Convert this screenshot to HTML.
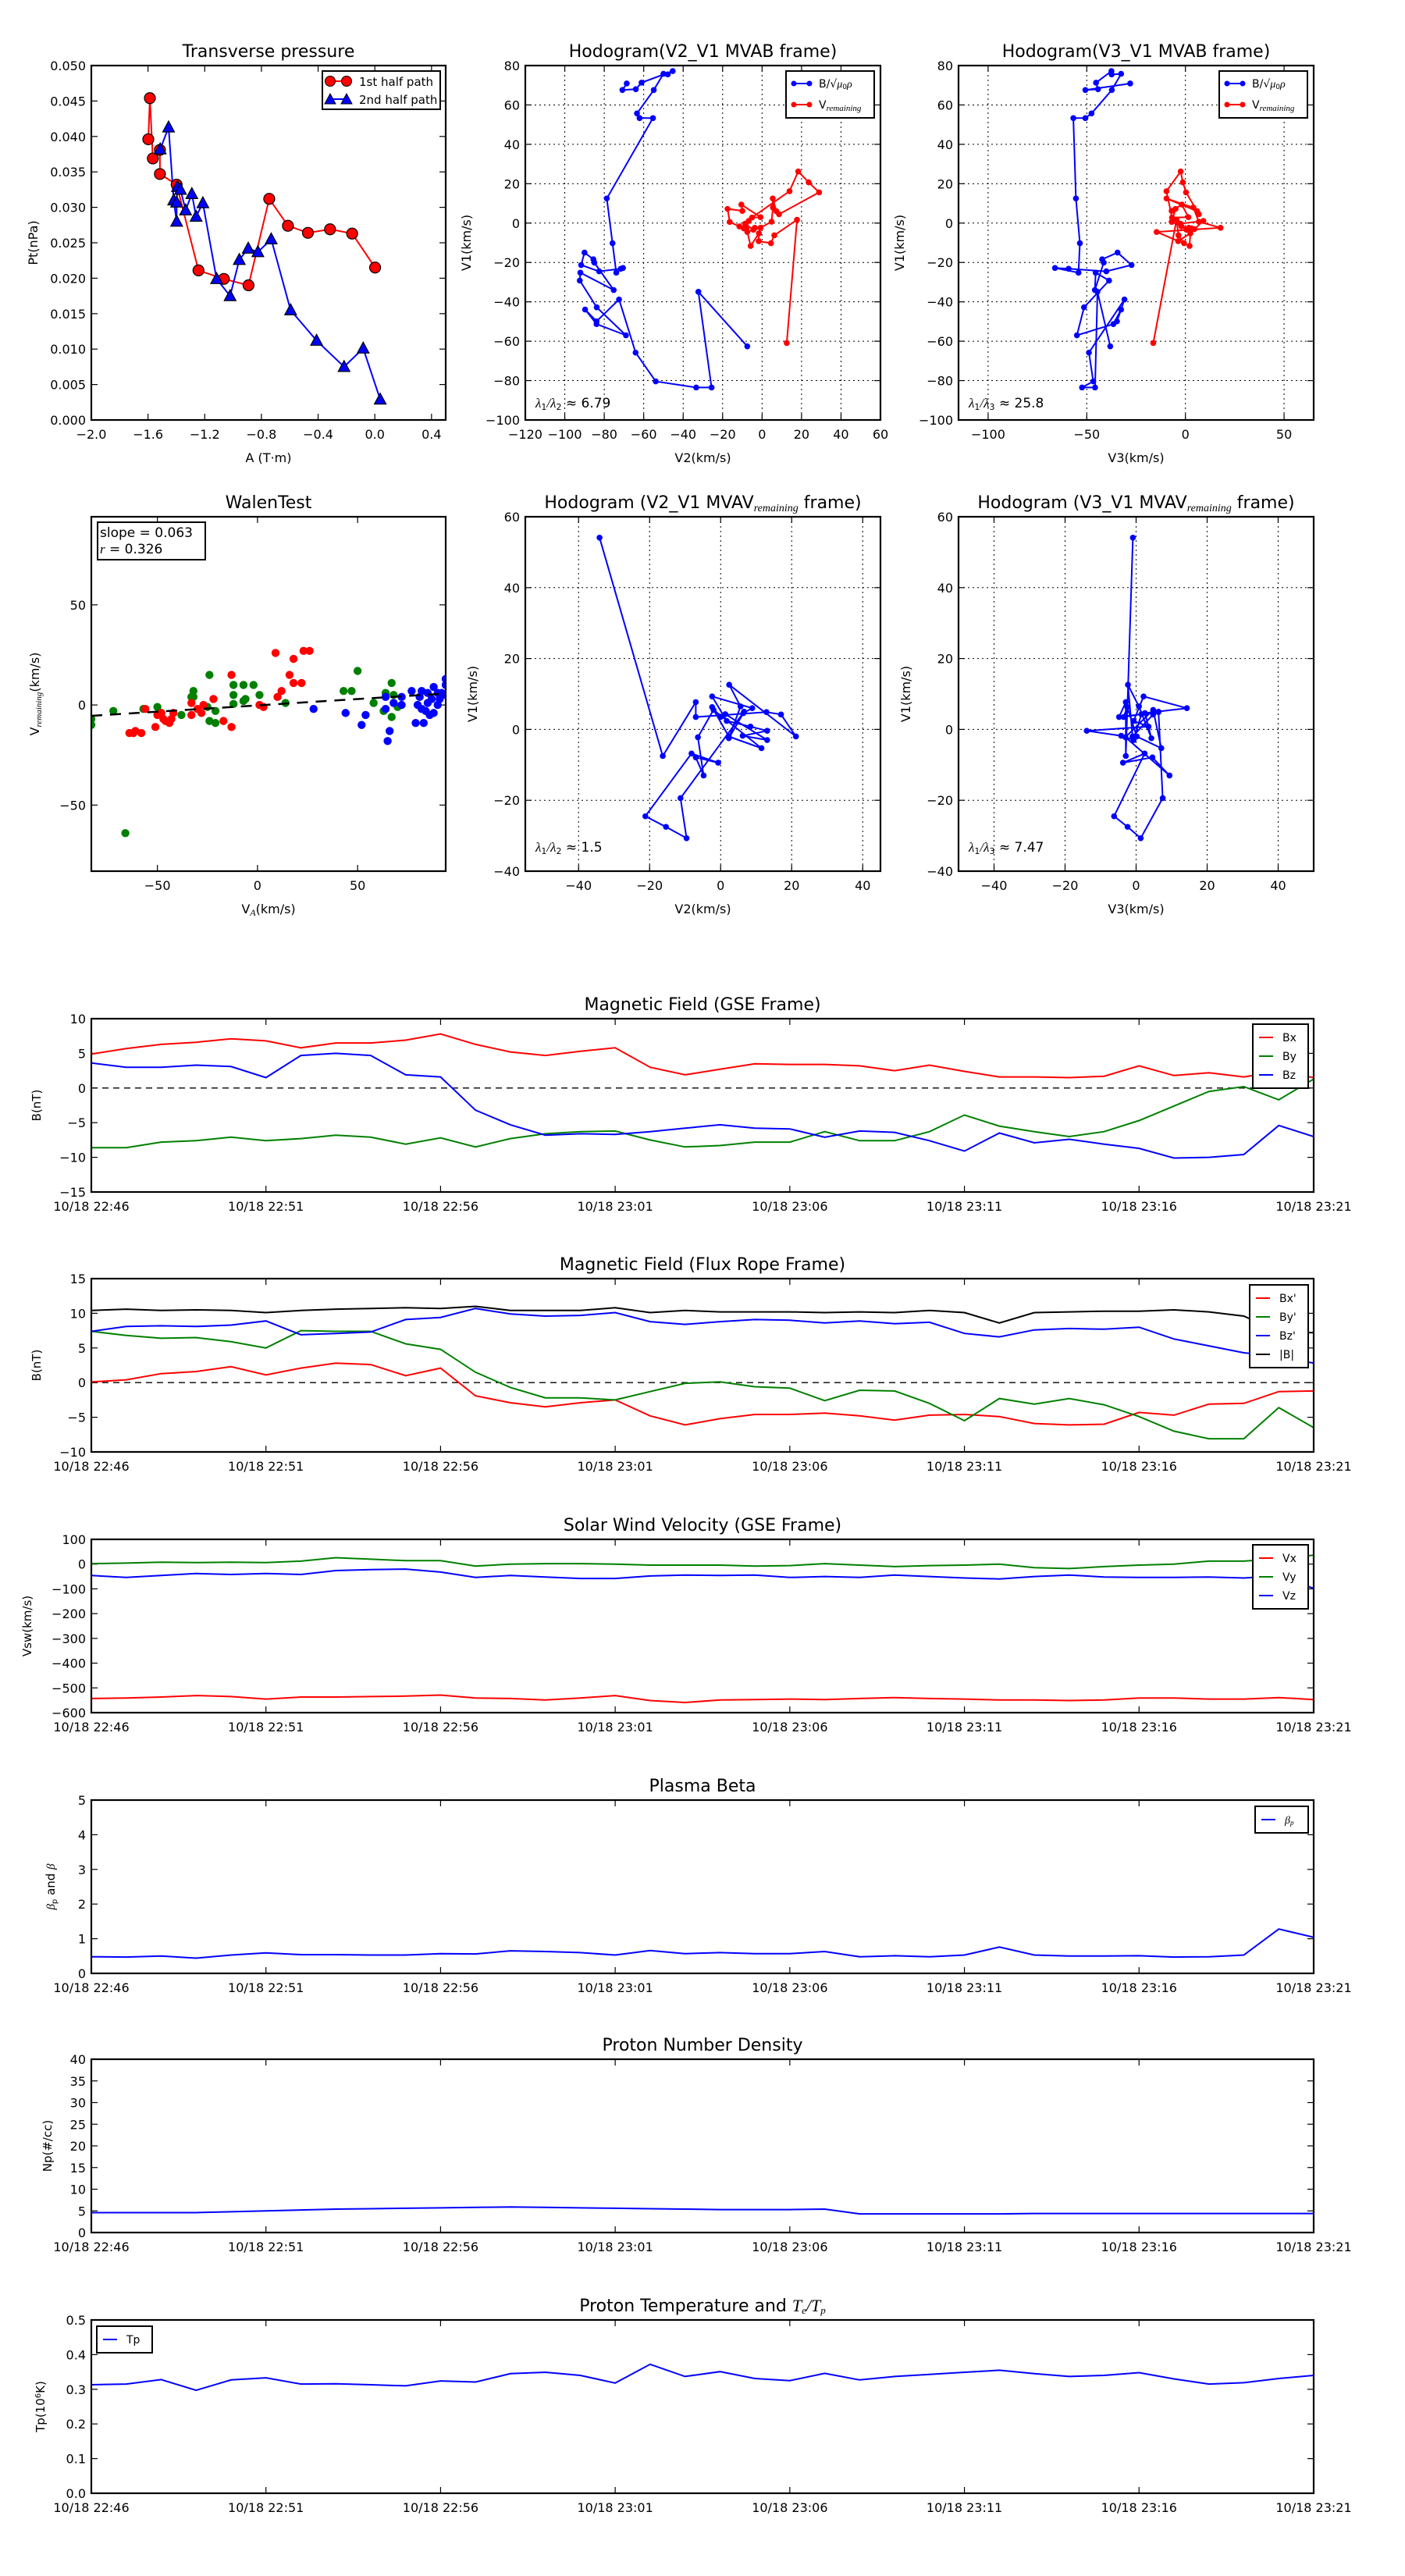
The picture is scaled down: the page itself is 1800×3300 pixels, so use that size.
<!DOCTYPE html>
<html><head><meta charset="utf-8"><title>Flux rope analysis</title>
<style>
html,body{margin:0;padding:0;background:#fff;}
svg{display:block;font-family:"DejaVu Sans","Liberation Sans",sans-serif;}
</style></head>
<body>
<svg id="fig" xmlns="http://www.w3.org/2000/svg" width="1800" height="3300" viewBox="0 0 1800 3300"></svg>
<script>
// ---------- DATA ----------
const ptRedA = [-1.598,-1.587,-1.566,-1.516,-1.516,-1.398,-1.244,-1.065,-0.891,-0.745,-0.613,-0.472,-0.316,-0.16,0.002];
const ptRedP = [0.0396,0.0454,0.0369,0.0381,0.0347,0.0332,0.0211,0.0199,0.0190,0.0312,0.0274,0.0264,0.0269,0.0263,0.0215];
const ptBlueA = [-1.514,-1.455,-1.419,-1.398,-1.398,-1.392,-1.371,-1.335,-1.291,-1.261,-1.213,-1.116,-1.021,-0.956,-0.893,-0.825,-0.731,-0.594,-0.411,-0.217,-0.082,0.038];
const ptBlueP = [0.0382,0.0413,0.0310,0.0280,0.0307,0.0329,0.0325,0.0296,0.0319,0.0287,0.0306,0.0199,0.0175,0.0226,0.0242,0.0237,0.0255,0.0155,0.0112,0.0075,0.0101,0.0029];

const mvabBV2 = [-7.5,-32.3,-25.6,-33.4,-53.9,-64.1,-72.5,-83.9,-89.7,-83.9,-69,-83.8,-92.4,-92.1,-75.2,-85,-85.5,-90,-91.7,-82.6,-71.6,-70.5,-73.9,-75.8,-78.7,-55.3,-62.1,-63.4,-54.9,-50,-47.8,-45.3,-61.1,-64,-70.8,-68.6];
const mvabBV1 = [-62.6,-34.9,-83.5,-83.5,-80.4,-65.8,-38.8,-49.9,-43.9,-51.3,-57,-42.8,-29.2,-25.2,-34,-20.1,-18.4,-15,-21.3,-24.5,-23.2,-22.8,-25.2,-10.2,12.5,53.3,53.3,55.7,67.6,75.8,75.5,77.2,71.3,68,67.6,70.9];
const mvabBV3 = [-38.1,-44.6,-45.8,-52.4,-46.7,-48.9,-30.9,-34.7,-32.6,-36.5,-55,-51.4,-38.7,-45.5,-45.9,-41.4,-42.2,-34.4,-27.3,-40.1,-59.2,-66.1,-54.2,-53.5,-55.5,-56.8,-50.7,-47.6,-37.3,-32.6,-37.4,-37.5,-45.3,-44.3,-50.7,-28];
const mvabVV2 = [12.5,17.7,6.2,4.5,-1.7,-1.6,-5.8,-7.5,-0.8,4.8,5.5,5.4,7.2,8.6,28.9,23.6,18.3,13.9,-5.1,-0.8,-10.5,-10,-17.5,-16.4,-11.5,-9.3,-7.9,-6.8,-8.6,-4.4,-3.7];
const mvabVV1 = [-60.9,1.7,-6.2,-10.2,-9.2,-5.2,-11.6,-4.5,-2.4,0.7,7.9,12.5,6.1,4.5,15.6,20.7,26.2,16.2,2.8,3.0,9.4,6.2,7.2,0.6,-1.7,-2.7,-3.1,1.1,-0.3,-3.4,-2.4];
const mvabVV3 = [-16.3,-4.5,-3.5,-0.7,-3.7,2.5,2.1,-14.6,17.8,6.8,4,-9.6,5.9,6.8,0.3,-1.3,-2.4,-9.6,-6.8,1.5,-1.8,-7,-5,-7,-2,3,4.5,9.1,-2.5,0.5,1.7];

const walenGreenX = [-83,-83,-72,-57,-50,-38,-33,-32,-32,-25,-24,-24,-21,-21,-12,-12,-12,-7,-7,-6,-2,1,14,43,47,50,58,63,64,67,67,68,70,-66];
const walenGreenY = [-7,-10,-3,-2,-1,-5,4,7,4,-1,15,-8,-3,-9,10,5,0.5,10,2,3,10,5,1,7,7,17,1,-3,6,11,-6,5,-1,-64];
const walenRedX = [-64,-62,-61,-58,-56,-51,-50,-48,-47,-46,-44,-43,-42,-33,-33,-30,-28,-27,-22,-17,-13,-13,1,3,9,10,12,16,18,18,22,23,26];
const walenRedY = [-14,-14,-13,-14,-2,-11,-5,-4,-7,-8,-9,-7,-4,1,-5,-2,-4,0,3,-8,15,-11,0,-1,26,4,7,15,23,11,11,27,27];
const walenBlueX = [28,44,52,54,64,64,65,66,68,72,72,77,79,80,81,82,82,83,84,85,85,86,87,88,88,90,90,91,92,94,94,94];
const walenBlueY = [-2,-4,-10,-5,4,-2,-18,-13,1,0,4,7,-9,0,4,-2,7,-9,-3,1,6,-5,3,9,-4,6,0,3,6,13,10,5];
const walenFit = [0.063,-0.2];

const mvavV2 = [-34.1,-16.3,-7,-7,12.9,17,21.2,2.4,5.6,2.3,6.4,8.9,-2.4,1.7,8.4,13.1,6.2,13.1,1.3,0,-2.4,2.3,11.5,-2,-6.4,-4.8,-7,-0.7,-8.2,-21.2,-15.4,-9.6,-11.3,6.6];
const mvavV1 = [54.1,-7.5,7.7,3.5,4.9,4.2,-2,12.6,6.5,-2.5,4.6,6.0,9.3,2.4,0.8,-0.4,-1.8,-3,4.3,3.5,6.3,-2,-5.3,5.5,-2.2,-13,-7.9,-9.4,-6.8,-24.5,-27.5,-30.7,-19.4,5];
const mvavV3 = [-0.9,-2.9,-2.9,-4.8,6.3,4.8,-1,-2.3,0.8,4.3,2.5,14.3,2.1,-0.7,3.5,-13.9,-4.2,-0.7,1.5,-3.5,-2.5,0.2,7.1,4.8,-3,9.4,4.6,-3.7,2.4,-6.2,-2.4,1.3,7.5,6.3];

const timeLabels = ["10/18 22:46","10/18 22:51","10/18 22:56","10/18 23:01","10/18 23:06","10/18 23:11","10/18 23:16","10/18 23:21"];
const minutes = [0,1,2,3,4,5,6,7,8,9,10,11,12,13,14,15,16,17,18,19,20,21,22,23,24,25,26,27,28,29,30,31,32,33,34,35];
const gseBx = [4.9,5.7,6.3,6.6,7.1,6.8,5.8,6.5,6.5,6.9,7.8,6.3,5.2,4.7,5.3,5.8,3.0,1.9,2.7,3.5,3.4,3.4,3.2,2.5,3.3,2.4,1.6,1.6,1.5,1.7,3.2,1.8,2.2,1.6,2.4,1.5];
const gseBy = [-8.6,-8.6,-7.8,-7.6,-7.1,-7.6,-7.3,-6.8,-7.1,-8.1,-7.2,-8.5,-7.3,-6.6,-6.3,-6.2,-7.5,-8.5,-8.3,-7.8,-7.8,-6.3,-7.6,-7.6,-6.3,-3.9,-5.5,-6.3,-7.0,-6.3,-4.7,-2.6,-0.5,0.2,-1.7,1.3];
const gseBz = [3.6,3.0,3.0,3.3,3.1,1.5,4.7,5.0,4.7,1.9,1.6,-3.2,-5.3,-6.8,-6.6,-6.7,-6.3,-5.8,-5.3,-5.8,-5.9,-7.1,-6.2,-6.4,-7.6,-9.1,-6.5,-7.9,-7.4,-8.1,-8.7,-10.1,-10.0,-9.6,-5.4,-7.0];
const frBx = [0.1,0.4,1.3,1.6,2.3,1.1,2.1,2.8,2.6,1.0,2.1,-1.9,-2.9,-3.5,-2.9,-2.5,-4.8,-6.1,-5.2,-4.6,-4.6,-4.4,-4.8,-5.4,-4.7,-4.6,-4.9,-5.9,-6.1,-6.0,-4.3,-4.7,-3.1,-3.0,-1.3,-1.2];
const frBy = [7.4,6.8,6.4,6.5,5.9,5.0,7.5,7.4,7.4,5.6,4.8,1.5,-0.7,-2.2,-2.2,-2.5,-1.3,-0.1,0.1,-0.6,-0.8,-2.6,-1.1,-1.2,-3.0,-5.5,-2.3,-3.1,-2.3,-3.2,-4.9,-7.0,-8.1,-8.1,-3.6,-6.5];
const frBz = [7.4,8.1,8.2,8.1,8.3,8.9,6.9,7.1,7.3,9.1,9.4,10.7,9.9,9.6,9.7,10.1,8.8,8.4,8.8,9.1,9.0,8.6,8.9,8.5,8.7,7.1,6.6,7.6,7.8,7.7,8.0,6.3,5.3,4.3,3.8,2.8];
const frB = [10.4,10.6,10.4,10.5,10.4,10.1,10.4,10.6,10.7,10.8,10.7,11.0,10.4,10.4,10.4,10.8,10.1,10.4,10.2,10.2,10.2,10.1,10.2,10.1,10.4,10.1,8.6,10.1,10.2,10.3,10.3,10.5,10.2,9.6,7.3,7.2];
const velVx = [-543,-541,-537,-531,-535,-545,-537,-537,-535,-533,-529,-541,-543,-549,-541,-531,-551,-559,-549,-547,-545,-547,-543,-539,-543,-545,-549,-549,-551,-549,-541,-541,-545,-545,-539,-547];
const velVy = [2,4,8,6,8,6,12,26,20,14,14,-8,0,2,2,0,-4,-4,-4,-8,-6,2,-4,-10,-6,-4,0,-14,-18,-10,-4,0,12,12,22,36];
const velVz = [-46,-54,-46,-38,-42,-38,-42,-26,-22,-20,-32,-54,-46,-52,-58,-58,-48,-44,-46,-44,-54,-50,-54,-44,-50,-56,-60,-50,-44,-52,-54,-54,-52,-56,-48,-98];
const betaP = [0.48,0.47,0.50,0.44,0.53,0.59,0.54,0.54,0.53,0.53,0.57,0.56,0.65,0.63,0.60,0.53,0.66,0.57,0.60,0.57,0.57,0.63,0.48,0.51,0.48,0.53,0.76,0.53,0.50,0.50,0.51,0.47,0.48,0.53,1.28,1.04];
const densNp = [4.6,4.6,4.6,4.6,4.8,5.0,5.2,5.4,5.5,5.6,5.7,5.8,5.9,5.8,5.7,5.6,5.5,5.4,5.3,5.3,5.3,5.4,4.3,4.3,4.3,4.3,4.3,4.4,4.4,4.4,4.4,4.4,4.4,4.4,4.4,4.4];
const tempTp = [0.313,0.315,0.328,0.297,0.327,0.333,0.315,0.316,0.313,0.310,0.324,0.321,0.345,0.349,0.340,0.318,0.372,0.337,0.351,0.331,0.325,0.346,0.327,0.337,0.343,0.349,0.355,0.345,0.337,0.340,0.348,0.330,0.315,0.319,0.331,0.340];

// ---------- HELPERS ----------
const NS = "http://www.w3.org/2000/svg";
const svg = document.getElementById('fig');
function mk(tag, attrs, parent){
  const e = document.createElementNS(NS, tag);
  for (const k in attrs) e.setAttribute(k, attrs[k]);
  (parent || svg).appendChild(e);
  return e;
}
function fmt(v, d){ const s = v.toFixed(d); return (v < 0 && parseFloat(s) !== 0) ? "\u2212" + s.slice(1) : (parseFloat(s) === 0 ? (0).toFixed(d) : s); }

function makeAxes(c){
  const g = mk('g', {});
  
  
  const sx = v => c.x + (v - c.xmin) / (c.xmax - c.xmin) * c.w;
  const sy = v => c.y + c.h - (v - c.ymin) / (c.ymax - c.ymin) * c.h;
  const fs = c.fs || 16;
  if (c.grid){
    c.xt.forEach(v => {
      const l = mk('line', {x1:sx(v), x2:sx(v), y1:c.y, y2:c.y+c.h, stroke:'#000', 'stroke-width':1, 'stroke-dasharray':'2,4'}, g);
      
      
    });
    c.yt.forEach(v => {
      const l = mk('line', {x1:c.x, x2:c.x+c.w, y1:sy(v), y2:sy(v), stroke:'#000', 'stroke-width':1, 'stroke-dasharray':'2,4'}, g);
      
      
    });
  }
  c.xt.forEach((v, i) => {
    const px = sx(v);
    const t1 = mk('line', {x1:px, x2:px, y1:c.y+c.h, y2:c.y+c.h-8, stroke:'#000', 'stroke-width':1.2}, g);
    
    
    const t2 = mk('line', {x1:px, x2:px, y1:c.y, y2:c.y+8, stroke:'#000', 'stroke-width':1.2}, g);
    
    
    const tl = mk('text', {x:px, y:c.y+c.h+24, 'text-anchor':'middle', 'font-size':fs}, g);
    tl.textContent = c.xl ? c.xl[i] : fmt(v, c.xd || 0);
    
    
  });
  c.yt.forEach(v => {
    const py = sy(v);
    const t1 = mk('line', {x1:c.x, x2:c.x+8, y1:py, y2:py, stroke:'#000', 'stroke-width':1.2}, g);
    
    
    const t2 = mk('line', {x1:c.x+c.w, x2:c.x+c.w-8, y1:py, y2:py, stroke:'#000', 'stroke-width':1.2}, g);
    
    
    const tl = mk('text', {x:c.x-7, y:py+6, 'text-anchor':'end', 'font-size':fs}, g);
    tl.textContent = fmt(v, c.yd || 0);
    
    
  });
  const tt = mk('text', {x:c.x + c.w/2, y:c.y - 11, 'text-anchor':'middle', 'font-size':c.tfs || 22}, g);
  tt.innerHTML = c.title;
  
  
  if (c.xlabel){
    const xl = mk('text', {x:c.x + c.w/2, y:c.y + c.h + 54, 'text-anchor':'middle', 'font-size':16}, g);
    xl.innerHTML = c.xlabel;
    
    
  }
  if (c.ylabel){
    const yl = mk('text', {x:c.ylx, y:c.y + c.h/2, 'text-anchor':'middle', 'font-size':c.ylfs || 16, transform:'rotate(-90 ' + c.ylx + ' ' + (c.y + c.h/2) + ')'}, g);
    yl.innerHTML = c.ylabel;
    
    
  }
  const clipId = 'clip-' + c.name;
  const cp = mk('clipPath', {id:clipId}, g);
  mk('rect', {x:c.x, y:c.y, width:c.w, height:c.h}, cp);
  const plot = mk('g', {'clip-path':'url(#' + clipId + ')'}, g);
  
  
  return {g, plot, sx, sy, c};
}
function finishAxes(a){
  const fr = mk('rect', {x:a.c.x, y:a.c.y, width:a.c.w, height:a.c.h, fill:'none', stroke:'#000', 'stroke-width':2.2}, a.g);
  
  
}
function drawLine(a, xs, ys, color, name, width){
  const pts = xs.map((x, i) => a.sx(x).toFixed(1) + ',' + a.sy(ys[i]).toFixed(1)).join(' ');
  const p = mk('polyline', {points:pts, fill:'none', stroke:color, 'stroke-width':width || 2, 'stroke-linejoin':'miter'}, a.plot);
  
  
  return p;
}
function drawDots(a, xs, ys, color, r, name, stroke){
  xs.forEach((x, i) => {
    const d = mk('circle', {cx:a.sx(x), cy:a.sy(ys[i]), r:r, fill:color, stroke:stroke || 'none', 'stroke-width':1.2}, a.plot);
    
    
  });
}
function drawTris(a, xs, ys, color, name){
  xs.forEach((x, i) => {
    const cx = a.sx(x), cy = a.sy(ys[i]);
    const d = mk('polygon', {points:`${cx},${cy-8} ${cx-7.5},${cy+6} ${cx+7.5},${cy+6}`, fill:color, stroke:'#000', 'stroke-width':1.2}, a.plot);
    
    
  });
}
function legendBox(parent, x, y, w, h, name){
  const r = mk('rect', {x:x, y:y, width:w, height:h, fill:'#fff', stroke:'#000', 'stroke-width':2}, parent);
  
  
}
function legendEntry(parent, x, y, color, label, fs, markers, len){
  const L = len || 22;
  const l = mk('line', {x1:x, x2:x+L, y1:y, y2:y, stroke:color, 'stroke-width':2}, parent);
  
  
  if (markers === 'dot'){
    [x, x+L].forEach(mx => { const m = mk('circle', {cx:mx, cy:y, r:3.5, fill:color}, parent);   });
  }
  const t = mk('text', {x:x+L+12, y:y+5, 'font-size':fs || 14}, parent);
  t.innerHTML = label;
  
  
}
function hodoAnnot(a, x, y, text){
  const t = mk('text', {x:x, y:y, 'font-size':17}, a.g);
  t.innerHTML = text;
  
  
}
const SERIF = 'font-family="Liberation Serif, serif"';
const sub = (s, fs) => `<tspan font-size="${fs || 11}" baseline-shift="-25%">${s}</tspan>`;
const subI = (s, fs) => `<tspan font-size="${fs || 11}" font-style="italic" ${SERIF} baseline-shift="-25%">${s}</tspan>`;
const vrem = `V${subI('remaining', 11)}`;
const bsq = `B/√<tspan font-style="italic" ${SERIF}>μ</tspan>${sub('0', 9)}<tspan font-style="italic" ${SERIF}>ρ</tspan>`;
const lam = (a, b, v) => `<tspan font-style="italic" ${SERIF}>λ</tspan>${sub(a)}<tspan font-style="italic" ${SERIF}>/λ</tspan>${sub(b)} ≈ ${v}`;
function range(a, b, s){ const r = []; for (let v = a; v <= b + 1e-9; v += s) r.push(Math.round(v * 1e6) / 1e6); return r; }

// ---------- TOP ROW ----------
(function(){
  const a = makeAxes({name:'transverse-pressure-chart', x:117, y:84, w:454, h:454, xmin:-2, xmax:0.5, ymin:0, ymax:0.05,
    xt:range(-2, 0.4, 0.4), xd:1, yt:range(0, 0.05, 0.005), yd:3, title:'Transverse pressure', xlabel:'A (T·m)', ylabel:'Pt(nPa)', ylx:48});
  drawLine(a, ptRedA, ptRedP, '#f00', 'first-half-path-line');
  drawLine(a, ptBlueA, ptBlueP, '#00f', 'second-half-path-line');
  drawDots(a, ptRedA, ptRedP, '#f00', 7, 'first-half-point', '#000');
  drawTris(a, ptBlueA, ptBlueP, '#00f', 'second-half-point');
  finishAxes(a);
  const lg = mk('g', {});  
  legendBox(lg, 413, 91, 151, 49, 'legend-box');
  mk('line', {x1:423, x2:444, y1:104, y2:104, stroke:'#f00', 'stroke-width':2}, lg);
  [423, 444].forEach(mx => { const m = mk('circle', {cx:mx, cy:104, r:6.5, fill:'#f00', stroke:'#000'}, lg);   });
  const t1 = mk('text', {x:460, y:110, 'font-size':15}, lg); t1.textContent = '1st half path';
  
  
  mk('line', {x1:423, x2:444, y1:127, y2:127, stroke:'#00f', 'stroke-width':2}, lg);
  [423, 444].forEach(mx => { const m = mk('polygon', {points:`${mx},${120} ${mx-7},${133} ${mx+7},${133}`, fill:'#00f', stroke:'#000'}, lg);   });
  const t2 = mk('text', {x:460, y:133, 'font-size':15}, lg); t2.textContent = '2nd half path';
  
  
})();

function mvabHodo(name, x0, xmin, xmax, xt, bx, vx, xl, annot){
  const a = makeAxes({name:name, x:x0, y:84, w:455, h:454, xmin:xmin, xmax:xmax, ymin:-100, ymax:80, grid:true,
    xt:xt, yt:range(-100, 80, 20), title:'Hodogram(' + xl + '_V1 MVAB frame)', xlabel:xl + '(km/s)', ylabel:'V1(km/s)', ylx:x0-70});
  drawLine(a, bx, mvabBV1, '#00f', 'b-hodogram-line');
  drawDots(a, bx, mvabBV1, '#00f', 3.8, 'b-hodogram-point');
  drawLine(a, vx, mvabVV1, '#f00', 'v-remaining-line');
  drawDots(a, vx, mvabVV1, '#f00', 3.8, 'v-remaining-point');
  finishAxes(a);
  hodoAnnot(a, x0+13, 522, annot);
  const lg = mk('g', {});  
  legendBox(lg, x0+334, 91, 113, 60, 'legend-box');
  legendEntry(lg, x0+344, 107, '#00f', bsq, 14, 'dot', 20);
  legendEntry(lg, x0+344, 134, '#f00', vrem, 14, 'dot', 20);
}
mvabHodo('hodogram-v2-v1-mvab', 673, -120, 60, range(-120, 60, 20), mvabBV2, mvabVV2, 'V2', lam('1','2','6.79'));
mvabHodo('hodogram-v3-v1-mvab', 1228, -115, 65, [-100,-50,0,50], mvabBV3, mvabVV3, 'V3', lam('1','3','25.8'));

// ---------- SECOND ROW ----------
(function(){
  const a = makeAxes({name:'walen-test-chart', x:117, y:662, w:454, h:454, xmin:-83, xmax:94, ymin:-83, ymax:94,
    xt:[-50,0,50], yt:[-50,0,50], title:'WalenTest', xlabel:'V' + subI('A', 12) + '(km/s)', ylabel:'V' + subI('remaining', 11) + '(km/s)', ylx:50});
  drawDots(a, walenGreenX, walenGreenY, '#008000', 5.2, 'walen-point-green');
  drawDots(a, walenRedX, walenRedY, '#f00', 5.2, 'walen-point-red');
  drawDots(a, walenBlueX, walenBlueY, '#00f', 5.2, 'walen-point-blue');
  const fl = mk('line', {x1:a.sx(-83), y1:a.sy(walenFit[0]*-83 + walenFit[1]), x2:a.sx(94), y2:a.sy(walenFit[0]*94 + walenFit[1]), stroke:'#000', 'stroke-width':2.5, 'stroke-dasharray':'14,10'}, a.plot);
  
  
  finishAxes(a);
  const box = mk('g', {});  
  legendBox(box, 125, 669, 138, 48, 'stats-box');
  const s1 = mk('text', {x:128, y:688, 'font-size':17}, box); s1.textContent = 'slope = 0.063';
  
  
  const s2 = mk('text', {x:128, y:709, 'font-size':17}, box); s2.innerHTML = `<tspan font-style="italic" ${SERIF}>r</tspan> = 0.326`;
  
  
})();

function mvavHodo(name, x0, xmin, xmax, vx, xl, annot){
  const a = makeAxes({name:name, x:x0, y:662, w:455, h:454, xmin:xmin, xmax:xmax, ymin:-40, ymax:60, grid:true,
    xt:[-40,-20,0,20,40], yt:range(-40, 60, 20), title:'Hodogram (' + xl + '_V1 MVAV' + subI('remaining', 14) + ' frame)', xlabel:xl + '(km/s)', ylabel:'V1(km/s)', ylx:x0-62});
  drawLine(a, vx, mvavV1, '#00f', 'v-hodogram-line');
  drawDots(a, vx, mvavV1, '#00f', 3.8, 'v-hodogram-point');
  finishAxes(a);
  hodoAnnot(a, x0+13, 1091, annot);
}
mvavHodo('hodogram-v2-v1-mvav', 673, -55, 45, mvavV2, 'V2', lam('1','2','1.5'));
mvavHodo('hodogram-v3-v1-mvav', 1228, -50, 50, mvavV3, 'V3', lam('1','3','7.47'));

// ---------- TIME SERIES ----------
function tsAxes(name, y0, ymin, ymax, yt, yd, title, ylabel, ylx){
  return makeAxes({name:name, x:117, y:y0, w:1566, h:222, xmin:0, xmax:35, ymin:ymin, ymax:ymax,
    xt:[0,5,10,15,20,25,30,35], xl:timeLabels, yt:yt, yd:yd, title:title, ylabel:ylabel, ylx:ylx, ylfs:15});
}
function zeroLine(a){
  const z = mk('line', {x1:a.c.x, x2:a.c.x+a.c.w, y1:a.sy(0), y2:a.sy(0), stroke:'#000', 'stroke-width':1.3, 'stroke-dasharray':'8,6'}, a.plot);
  
  
}
function tsLegend(a, x, y, w, entries){
  const lg = mk('g', {});  
  legendBox(lg, x, y, w, entries.length * 24 + 10, 'legend-box');
  entries.forEach((e, i) => legendEntry(lg, x+8, y+17+i*24, e[0], e[1], 14, null, 18));
}

(function(){
  const a = tsAxes('magnetic-field-gse-chart', 1305, -15, 10, range(-15, 10, 5), 0, 'Magnetic Field (GSE Frame)', 'B(nT)', 52);
  zeroLine(a);
  drawLine(a, minutes, gseBx, '#f00', 'bx-line');
  drawLine(a, minutes, gseBy, '#008000', 'by-line');
  drawLine(a, minutes, gseBz, '#00f', 'bz-line');
  finishAxes(a);
  tsLegend(a, 1605, 1312, 71, [['#f00','Bx'],['#008000','By'],['#00f','Bz']]);
})();
(function(){
  const a = tsAxes('magnetic-field-flux-rope-chart', 1638, -10, 15, range(-10, 15, 5), 0, 'Magnetic Field (Flux Rope Frame)', 'B(nT)', 52);
  zeroLine(a);
  drawLine(a, minutes, frBx, '#f00', 'bx-prime-line');
  drawLine(a, minutes, frBy, '#008000', 'by-prime-line');
  drawLine(a, minutes, frBz, '#00f', 'bz-prime-line');
  drawLine(a, minutes, frB, '#000', 'b-magnitude-line');
  finishAxes(a);
  tsLegend(a, 1601, 1646, 75, [['#f00',"Bx'"],['#008000',"By'"],['#00f',"Bz'"],['#000','|B|']]);
})();
(function(){
  const a = tsAxes('solar-wind-velocity-chart', 1972, -600, 100, range(-600, 100, 100), 0, 'Solar Wind Velocity (GSE Frame)', 'Vsw(km/s)', 40);
  drawLine(a, minutes, velVx, '#f00', 'vx-line');
  drawLine(a, minutes, velVy, '#008000', 'vy-line');
  drawLine(a, minutes, velVz, '#00f', 'vz-line');
  finishAxes(a);
  tsLegend(a, 1605, 1979, 71, [['#f00','Vx'],['#008000','Vy'],['#00f','Vz']]);
})();
(function(){
  const a = tsAxes('plasma-beta-chart', 2306, 0, 5, range(0, 5, 1), 0, 'Plasma Beta', `<tspan font-style="italic" ${SERIF}>β</tspan>${sub('p', 10)} and <tspan font-style="italic" ${SERIF}>β</tspan>`, 70);
  drawLine(a, minutes, betaP, '#00f', 'beta-p-line');
  finishAxes(a);
  tsLegend(a, 1608, 2314, 68, [['#00f', `<tspan font-style="italic" ${SERIF}>β</tspan>${subI('p', 9)}`]]);
})();
(function(){
  const a = tsAxes('proton-density-chart', 2638, 0, 40, range(0, 40, 5), 0, 'Proton Number Density', 'Np(#/cc)', 66);
  drawLine(a, minutes, densNp, '#00f', 'np-line');
  finishAxes(a);
})();
(function(){
  const a = tsAxes('proton-temperature-chart', 2972, 0, 0.5, range(0, 0.5, 0.1), 1, `Proton Temperature and <tspan font-style="italic" ${SERIF}>T</tspan>${subI('e', 13)}<tspan font-style="italic" ${SERIF}>/T</tspan>${subI('p', 13)}`, 'Tp(10<tspan font-size="10" baseline-shift="super">6</tspan>K)', 57);
  drawLine(a, minutes, tempTp, '#00f', 'tp-line');
  finishAxes(a);
  tsLegend(a, 124, 2980, 71, [['#00f','Tp']]);
})();
</script>
</body></html>
